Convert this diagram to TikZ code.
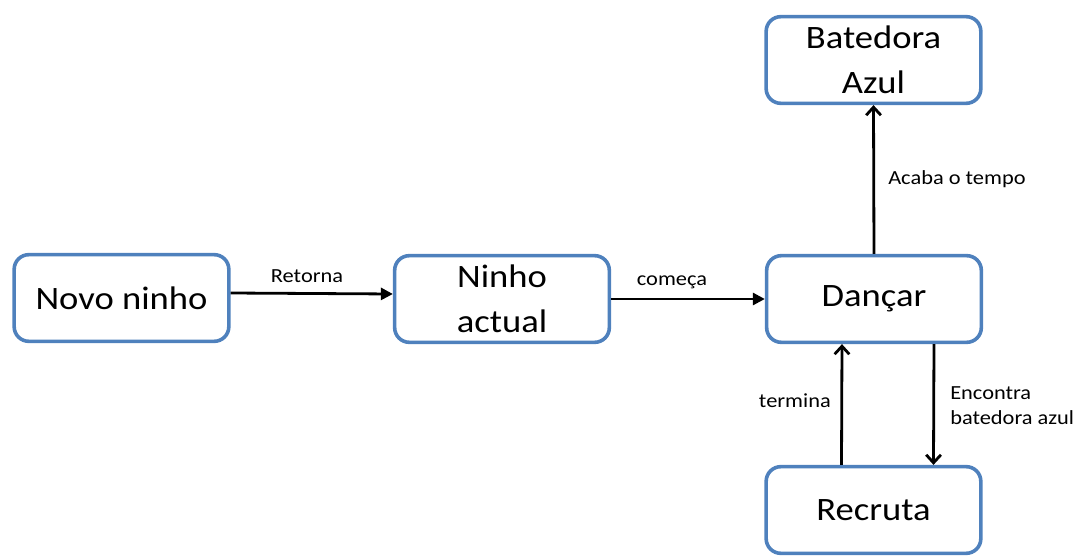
\documentclass[tikz,border=0pt]{standalone}
\usepackage{fontspec}
\setmainfont{Carlito}[FakeStretch=1.12]
\usetikzlibrary{arrows.meta}
\definecolor{boxblue}{RGB}{79,129,189}
\begin{document}
\begin{tikzpicture}[x=0.75pt,y=-0.75pt,
  state/.style={draw=boxblue, line width=2.7pt, rounded corners=11pt, fill=white,
    minimum width=161pt, minimum height=65pt, align=center, inner sep=0pt,
    font=\fontsize{24.5}{33.75}\selectfont},
  lbl/.style={inner sep=0pt, align=left, font=\fontsize{15}{18.75}\selectfont},
  flat/.style={line width=2.1pt, -{Triangle[length=9pt,width=9pt]}},
  vert/.style={line width=2.1pt, -{Straight Barb[length=6pt,width=11pt]}}]
\useasboundingbox (0,0) rectangle (1076,556);

% states
\node[state] (novo)   at (121.5,298) {Novo ninho};
\node[state] (ninho)  at (502,299)   {Ninho\\actual};
\node[state] (dancar) at (874,299)   {Dançar};
\node[state] (bat)    at (873.5,60)  {Batedora\\Azul};
\node[state] (rec)    at (873.5,510) {Recruta};

% transitions
\draw[flat] ([yshift=3.75pt]novo.east) -- ([yshift=3.75pt]ninho.west);
\draw[flat] (ninho.east) -- (dancar.west);
\draw[vert] (dancar.north) -- (bat.south);
\draw[vert] ([xshift=-24pt]rec.north) -- ([xshift=-24pt]dancar.south);
\draw[vert] ([xshift=45pt]dancar.south) -- ([xshift=45pt]rec.north);

% transition labels
\node[lbl, anchor=base] (lretorna) at (307,283) {Retorna};
\node[lbl, anchor=base] (lcomeca) at (672,286) {começa};
\node[lbl, anchor=base west] (lacaba) at (888,185) {Acaba o tempo};
\node[lbl, anchor=base east] (ltermina) at (831,407) {termina};
\node[lbl, anchor=north west] (lencontra) at (950,386) {Encontra\\batedora azul};
\end{tikzpicture}
\end{document}
